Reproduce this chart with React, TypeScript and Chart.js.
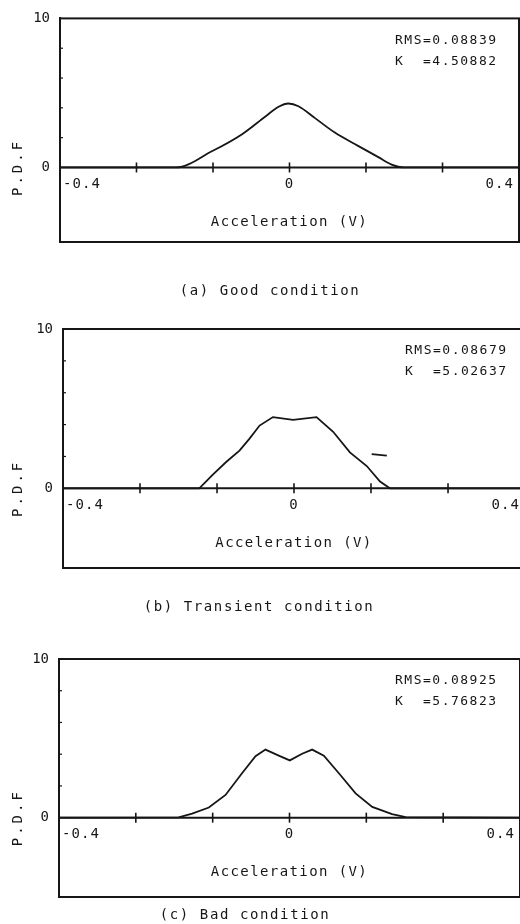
import React, { useEffect, useRef } from 'react';
import { Chart, registerables } from 'chart.js';

Chart.register(...registerables);

// ---------- data ----------
const X_MIN = -0.4;
const X_MAX = 0.4;
const Y_MIN = -5;
const Y_MAX = 10;
const X_TICKS = [-0.2667, -0.1333, 0, 0.1333, 0.2667];
const X_LABEL_VALUES = [-0.4, 0, 0.4];
const X_LABELS = ['-0.4', '0', '0.4'];
const Y_TICKS = [0, 10];
const Y_MINOR_TICKS = [2, 4, 6, 8];
const X_TITLE = 'Acceleration (V)';
const Y_TITLE = 'P.D.F';

const goodX = [-0.4, -0.198, -0.1345, -0.0826, -0.042, -0.019, -0.002, 0.0156, 0.0445, 0.079, 0.1195, 0.154, 0.177, 0.2, 0.4];
const goodPdf = [0, 0, 1.1, 2.23, 3.42, 4.07, 4.29, 4.11, 3.31, 2.34, 1.45, 0.71, 0.21, 0, 0];

const transientX = [-0.4, -0.164, -0.141, -0.1175, -0.0944, -0.077, -0.0596, -0.0365, -0.0017, 0.039, 0.0678, 0.0968, 0.126, 0.149, 0.166, 0.4];
const transientPdf = [0, 0, 0.85, 1.65, 2.37, 3.12, 3.94, 4.47, 4.3, 4.47, 3.55, 2.26, 1.4, 0.43, 0, 0];
const transientMarkX = [0.1345, 0.1607];
const transientMarkPdf = [2.15, 2.05];

const badX = [-0.4, -0.1924, -0.169, -0.14, -0.111, -0.0824, -0.059, -0.0417, -0.0186, 0.0005, 0.0219, 0.0393, 0.0596, 0.0857, 0.1147, 0.1436, 0.178, 0.2017, 0.4];
const badPdf = [0, 0.02, 0.25, 0.64, 1.43, 2.8, 3.87, 4.29, 3.91, 3.61, 4.03, 4.29, 3.91, 2.8, 1.53, 0.68, 0.22, 0.04, 0];

const captions = ['(a) Good condition', '(b) Transient condition', '(c) Bad condition'];
const rmsValues = ['0.08839', '0.08679', '0.08925'];
const kurtosisValues = ['4.50882', '5.02637', '5.76823'];

const seriesX = [goodX, transientX, badX];
const seriesPdf = [goodPdf, transientPdf, badPdf];

// ---------- styling / layout ----------
const INK = '#161616';
const FONT = "'DejaVu Sans Mono', monospace";
const CANVAS_W = 530;

type PanelLayout = {
  top: number;
  height: number;
  padTop: number;
  padBottom: number;
  padRight: number;
  axisWidth: number;
  captionX: number;
  captionY: number;
  statsX: number;
  smooth: boolean;
};

const LAYOUTS: PanelLayout[] = [
  { top: 0, height: 310, padTop: 12, padBottom: 68, padRight: 11, axisWidth: 60, captionX: 270, captionY: 291, statsX: 395, smooth: true },
  { top: 310, height: 305, padTop: 19, padBottom: 47, padRight: 5, axisWidth: 63, captionX: 259, captionY: 297, statsX: 405, smooth: false },
  { top: 615, height: 309, padTop: 44, padBottom: 27, padRight: 10, axisWidth: 59, captionX: 245, captionY: 300, statsX: 395, smooth: false },
];

function drawText(ctx: CanvasRenderingContext2D, text: string, x: number, y: number, align: CanvasTextAlign, spacing = 1.1, size = 14) {
  ctx.save();
  ctx.font = `${size}px ${FONT}`;
  ctx.fillStyle = INK;
  (ctx as any).letterSpacing = `${spacing}px`;
  ctx.textAlign = align;
  ctx.textBaseline = 'middle';
  ctx.fillText(text, x, y);
  ctx.restore();
}

function makePlugin(i: number, L: PanelLayout) {
  return {
    id: 'pdfFrame' + i,
    beforeDatasetsDraw(chart: any) {
      const { ctx, chartArea: a, scales } = chart;
      const xs = scales.x;
      const ys = scales.y;
      const y0 = ys.getPixelForValue(0);
      ctx.save();
      ctx.strokeStyle = INK;
      ctx.lineWidth = 2;
      ctx.strokeRect(a.left, a.top, a.right - a.left, a.bottom - a.top);
      ctx.beginPath();
      ctx.moveTo(a.left, y0);
      ctx.lineTo(a.right, y0);
      ctx.stroke();
      ctx.lineWidth = 1.6;
      X_TICKS.forEach((v) => {
        const px = xs.getPixelForValue(v);
        ctx.beginPath();
        ctx.moveTo(px, y0 - 5);
        ctx.lineTo(px, y0 + 5);
        ctx.stroke();
      });
      ctx.lineWidth = 1.2;
      Y_MINOR_TICKS.forEach((v) => {
        const py = ys.getPixelForValue(v);
        ctx.beginPath();
        ctx.moveTo(a.left, py);
        ctx.lineTo(a.left + 3, py);
        ctx.stroke();
      });
      ctx.restore();
    },
    afterDraw(chart: any) {
      const { ctx, chartArea: a, scales } = chart;
      const xs = scales.x;
      const ys = scales.y;
      const y0 = ys.getPixelForValue(0);
      // x tick labels along the zero line
      X_LABEL_VALUES.forEach((v, k) => {
        const px = xs.getPixelForValue(v);
        if (k === 0) drawText(ctx, X_LABELS[k], px + 3, y0 + 17, 'left');
        else if (k === X_LABEL_VALUES.length - 1) drawText(ctx, X_LABELS[k], px - 5, y0 + 17, 'right');
        else drawText(ctx, X_LABELS[k], px, y0 + 17, 'center');
      });
      // x axis title inside the box
      drawText(ctx, X_TITLE, xs.getPixelForValue(0), y0 + 55, 'center', 1.4);
      // y axis title, rotated, centred on the zero line
      ctx.save();
      ctx.translate(18, y0);
      ctx.rotate(-Math.PI / 2);
      drawText(ctx, Y_TITLE, 0, 0, 'center', 3);
      ctx.restore();
      // statistics
      drawText(ctx, 'RMS=' + rmsValues[i], L.statsX, a.top + 22, 'left', 1.5, 13);
      drawText(ctx, 'K  =' + kurtosisValues[i], L.statsX, a.top + 43, 'left', 1.5, 13);
      // caption
      drawText(ctx, captions[i], L.captionX, L.captionY, 'center', 1.6);
    },
  };
}

function Panel({ index }: { index: number }) {
  const ref = useRef<HTMLCanvasElement | null>(null);
  const L = LAYOUTS[index];

  useEffect(() => {
    if (!ref.current) return;
    const xs = seriesX[index];
    const ps = seriesPdf[index];
    const datasets: any[] = [
      {
        data: xs.map((x, k) => ({ x, y: ps[k] })),
        borderColor: INK,
        borderWidth: 1.8,
        pointRadius: 0,
        fill: false,
        tension: L.smooth ? 0.4 : 0,
        cubicInterpolationMode: L.smooth ? 'monotone' : 'default',
      },
    ];
    if (index === 1) {
      datasets.push({
        data: transientMarkX.map((x, k) => ({ x, y: transientMarkPdf[k] })),
        borderColor: INK,
        borderWidth: 1.8,
        pointRadius: 0,
        fill: false,
      });
    }
    const chart = new Chart(ref.current, {
      type: 'line',
      data: { datasets },
      options: {
        animation: false,
        responsive: false,
        maintainAspectRatio: false,
        events: [],
        layout: { padding: { top: L.padTop, bottom: L.padBottom, right: L.padRight, left: 0 } },
        plugins: { legend: { display: false }, tooltip: { enabled: false }, title: { display: false } },
        scales: {
          x: { type: 'linear', min: X_MIN, max: X_MAX, display: false },
          y: {
            type: 'linear',
            min: Y_MIN,
            max: Y_MAX,
            position: 'left',
            afterBuildTicks: (s: any) => {
              s.ticks = Y_TICKS.map((v) => ({ value: v }));
            },
            afterFit: (s: any) => {
              s.width = L.axisWidth;
            },
            ticks: { font: { family: FONT, size: 14 }, color: INK, padding: 10 },
            grid: { drawOnChartArea: false, drawTicks: false },
            border: { display: true, color: INK, width: 2 },
          },
        },
      } as any,
      plugins: [makePlugin(index, L)],
    });
    return () => chart.destroy();
  }, [index]);

  return (
    <canvas
      ref={ref}
      width={CANVAS_W}
      height={L.height}
      style={{ position: 'absolute', left: 0, top: L.top, width: CANVAS_W, height: L.height }}
    />
  );
}

export default function App() {
  return (
    <div style={{ position: 'absolute', left: 0, top: 0, width: 520, height: 924, overflow: 'hidden', background: '#ffffff' }}>
      <Panel index={0} />
      <Panel index={1} />
      <Panel index={2} />
    </div>
  );
}
